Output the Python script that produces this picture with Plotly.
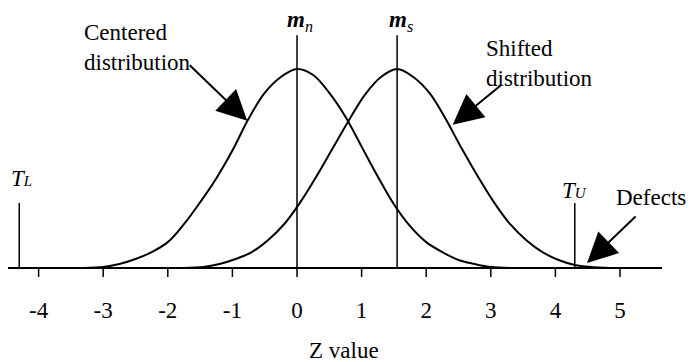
import plotly.graph_objects as go

# centered distribution (height as % of peak)
centered_z = [-3.3, -3.0, -2.75, -2.5, -2.25, -2.0, -1.75, -1.5, -1.25, -1.0, -0.75, -0.5, -0.25,
              0.0, 0.25, 0.5, 0.75, 1.0, 1.25, 1.5, 1.75, 2.0, 2.25, 2.5, 2.75, 3.0, 3.35]
centered_y = [0, 0.5, 2, 4.5, 8, 13, 22, 33, 45, 59, 75, 88, 96,
              100, 97, 88, 76, 61, 46, 32, 21, 13, 8, 4, 2, 0.5, 0]

# shifted distribution
shifted_z = [-1.75, -1.45, -1.2, -0.95, -0.7, -0.45, -0.2, 0.05, 0.3, 0.55, 0.8, 1.05, 1.3,
             1.55, 1.8, 2.05, 2.3, 2.55, 2.8, 3.05, 3.3, 3.55, 3.8, 4.05, 4.3, 4.55, 4.85]
shifted_y = [0, 0.5, 2, 4.5, 8, 14, 22, 33, 46, 60, 74, 87, 96,
             100, 96, 88, 75, 60, 46, 33, 22, 14, 8, 4, 1.5, 0.5, 0]

mean_n = 0.0
mean_s = 1.55
t_lower = -4.3
t_upper = 4.3
tick_vals = [-4, -3, -2, -1, 0, 1, 2, 3, 4, 5]
tick_text = ['-4', '-3', '-2', '-1', '0', '1', '2', '3', '4', '5']

OFF = 8  # page body margin
W, H = 696 - OFF, 362 - OFF
# screen-pixel mapping of the data
x0_px, px_per_z = 297 - OFF, 64.6
y0_px, px_per_y = 268 - OFF, 1.99
xr = [(0 - x0_px) / px_per_z, (W - x0_px) / px_per_z]
yr = [-(H - y0_px) / px_per_y, y0_px / px_per_y]

FONT = 'Times New Roman'
FS = 23
line = dict(color='black', width=2)

fig = go.Figure()
fig.add_trace(go.Scatter(x=centered_z, y=centered_y, mode='lines', line=line, line_shape='spline'))
fig.add_trace(go.Scatter(x=shifted_z, y=shifted_y, mode='lines', line=line, line_shape='spline'))

# axis line
fig.add_trace(go.Scatter(x=[-4.52, 5.65], y=[0, 0], mode='lines', line=line))

# tick marks
tx, ty = [], []
for v in tick_vals:
    tx += [v, v, None]
    ty += [0, -4.5, None]
fig.add_trace(go.Scatter(x=tx, y=ty, mode='lines', line=dict(color='black', width=1.5)))
fig.add_trace(go.Scatter(x=tick_vals, y=[-22.3] * len(tick_vals), mode='text', text=tick_text,
                         textfont=dict(family=FONT, size=FS, color='black')))

# vertical lines for means and tolerance limits
fig.add_trace(go.Scatter(x=[mean_n, mean_n, None, mean_s, mean_s], y=[0, 117, None, 0, 117],
                         mode='lines', line=dict(color='black', width=1.5)))
fig.add_trace(go.Scatter(x=[t_lower, t_lower, None, t_upper, t_upper], y=[0, 32.7, None, 0, 32.7],
                         mode='lines', line=dict(color='black', width=1.5)))


def px(x, y):
    return dict(xref='paper', yref='paper', x=(x - OFF) / W, y=1 - (y - OFF) / H)


f = dict(family=FONT, size=FS, color='black')
texts = [
    (82, 47, 'Centered<br>distribution', 'left'),
    (484, 64, 'Shifted<br>distribution', 'left'),
    (285, 21, '<b><i>m</i></b><sub><i>n</i></sub>', 'left'),
    (387, 21, '<b><i>m</i></b><sub><i>s</i></sub>', 'left'),
    (9, 178, '<i>T<span style="font-size:15px">L</span></i>', 'left'),
    (560, 190, '<i>T<span style="font-size:15px">U</span></i>', 'left'),
    (614, 197, 'Defects', 'left'),
    (344, 350, 'Z value', 'center'),
]
for x, y, t, al in texts:
    fig.add_annotation(**px(x, y), text=t, showarrow=False, xanchor=al, yanchor='middle',
                       align='left', font=f)

arrows = [
    (-0.77, 74, 188 - 247, 68 - 125),
    (2.41, 72, 503 - 453, 84 - 125),
    (4.49, 2.5, 637 - 587, 215 - 263),
]
for x, y, ax, ay in arrows:
    fig.add_annotation(x=x, y=y, xref='x', yref='y', ax=ax, ay=ay, text='', showarrow=True,
                       arrowhead=2, arrowsize=3, arrowwidth=2, arrowcolor='black')

fig.update_layout(
    width=W, height=H, margin=dict(l=0, r=0, t=0, b=0),
    plot_bgcolor='white', paper_bgcolor='white', showlegend=False,
    xaxis=dict(range=xr, visible=False, fixedrange=True),
    yaxis=dict(range=yr, visible=False, fixedrange=True),
)
fig.write_html('out.html')
